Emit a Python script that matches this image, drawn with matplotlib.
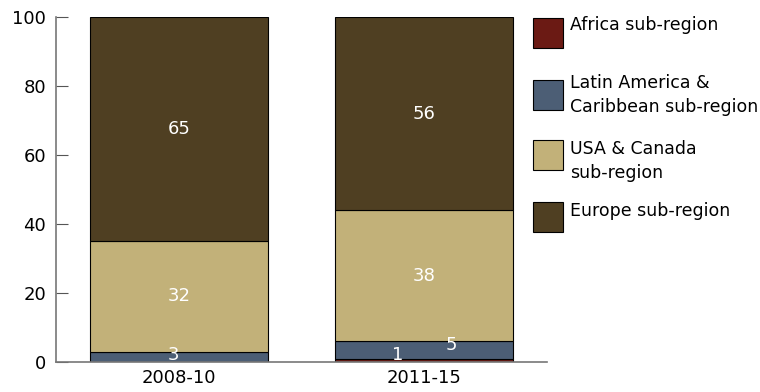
import matplotlib
matplotlib.use("Agg")
import matplotlib.pyplot as plt
from matplotlib.patches import Rectangle
import numpy as np

periods = ["2008-10", "2011-15"]
regions = ["Africa sub-region", "Latin America &\nCaribbean sub-region",
           "USA & Canada\nsub-region", "Europe sub-region"]
africa = [0, 1]
latam = [3, 5]
usa = [32, 38]
europe = [65, 56]
colors = ["#6b1a14", "#4c5e75", "#c2b179", "#4f3f22"]

plt.rcParams['font.family'] = ['DejaVu Sans']

W, H = 760, 392
fig = plt.figure(figsize=(W / 100, H / 100), dpi=100)
ax = fig.add_axes([56 / W, 30 / H, 491 / W, 345 / H])

x = np.arange(len(periods))
series = [africa, latam, usa, europe]
bottom = np.zeros(len(periods))
for vals, col, name in zip(series, colors, regions):
    ax.bar(x, vals, 0.727, bottom=bottom, color=col, edgecolor="black",
           linewidth=0.8, label=name)
    for i, v in enumerate(vals):
        if v == 0:
            continue
        xo, yo = 0, 0
        if v < 2:
            xo, yo = -0.11, 1.5
        elif v < 6:
            xo, yo = (0.11, 1.4) if i == 1 else (-0.02, 0.5)
        ax.text(x[i] + xo, bottom[i] + v / 2 + yo, str(v), color="white",
                ha="center", va="center", fontsize=13)
    bottom += np.array(vals)

ax.set_xlim(-0.5, 1.5)
ax.set_ylim(0, 100)
ax.set_xticks(x)
ax.set_xticklabels(periods, fontsize=13)
ax.set_yticks([0, 20, 40, 60, 80, 100])
ax.tick_params(axis="y", direction="in", length=8.5, color="#555555", labelsize=13, pad=7)
ax.tick_params(axis="x", length=0, pad=5)
for s in ["top", "right"]:
    ax.spines[s].set_visible(False)
for s in ["left", "bottom"]:
    ax.spines[s].set_color("#777777")
    ax.spines[s].set_linewidth(1.2)

# legend drawn by hand to match spacing
tops = [18, 80, 140, 202]
text_mid = [25, 95, 161, 211]
for top, mid, col, name in zip(tops, text_mid, colors, regions):
    fig.add_artist(Rectangle((533 / W, 1 - (top + 30) / H), 30 / W, 30 / H,
                             facecolor=col, edgecolor="black", linewidth=0.8,
                             transform=fig.transFigure))
    fig.text(570 / W, 1 - mid / H, name, ha="left", va="center",
             fontsize=12.5, linespacing=1.45)

fig.savefig("out.png", dpi=100)
